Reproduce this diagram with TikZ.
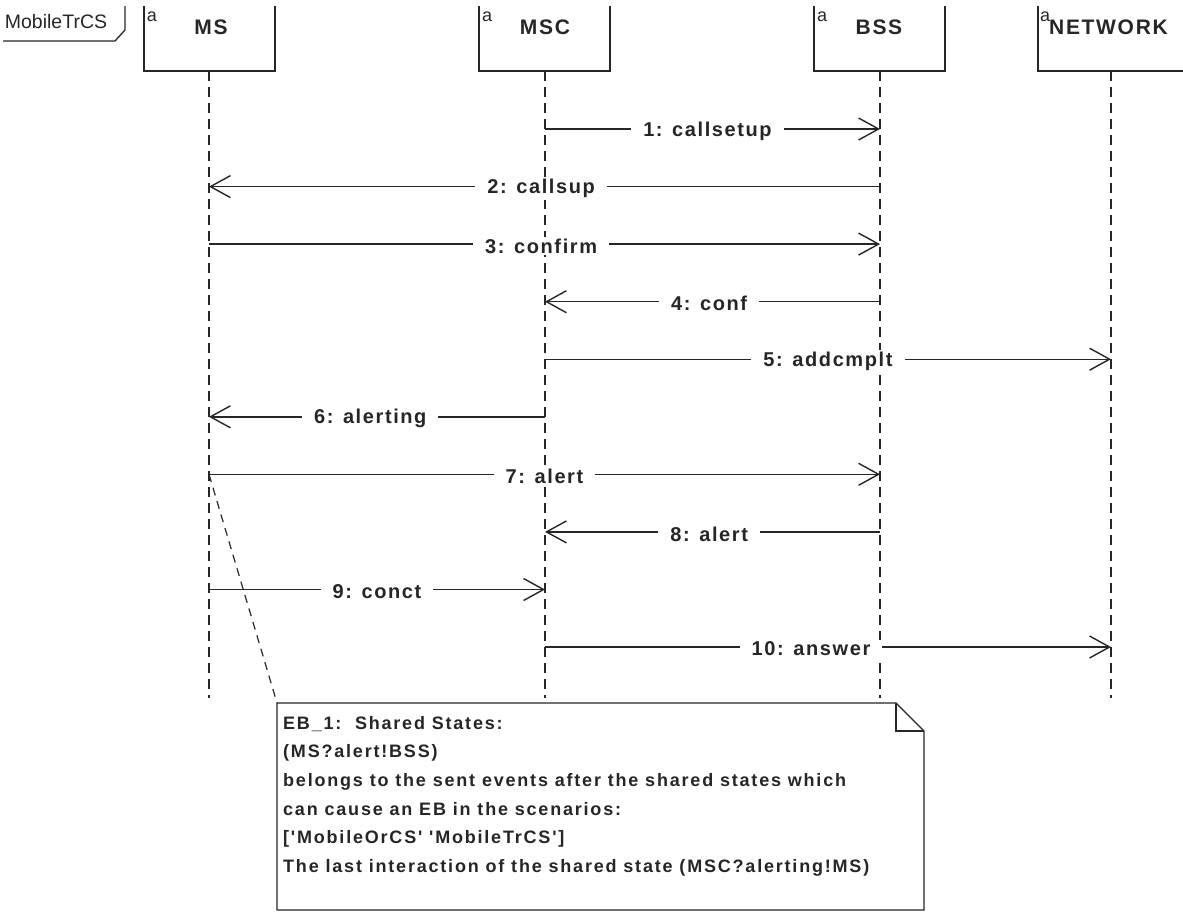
\documentclass[tikz,border=0pt]{standalone}
\usepackage{fontspec}
\setmainfont{Liberation Sans}
\newfontfamily\labfont[LetterSpace=8]{Liberation Sans}
\newfontfamily\headfont[LetterSpace=8]{Liberation Sans}
\newfontfamily\notefont[LetterSpace=10,Ligatures=TeXOff]{Liberation Sans}
\newfontfamily\framefont{Liberation Sans}
\usetikzlibrary{arrows.meta}
\begin{document}
\begin{tikzpicture}[x=1pt,y=-1pt,
  boxline/.style={line width=1.3pt, black!85},
  lifeline/.style={line width=1.2pt, black!85, dash pattern=on 10pt off 6pt},
  msg/.style={line width=1.4pt, black!85, -{Straight Barb[length=20pt,width=22pt,line width=1.4pt]}},
  lbl/.style={fill=white, inner xsep=12pt, inner ysep=2pt, yshift=-2pt, text=black!85, font=\labfont\bfseries\fontsize{20}{22}\selectfont},
  headlbl/.style={inner sep=0pt, text=black!85, font=\headfont\bfseries\fontsize{21}{23}\selectfont},
  alabel/.style={inner sep=0pt, text=black!85, font=\fontsize{18}{20}\selectfont},
  notetext/.style={inner sep=0pt, align=left, anchor=north west, text=black!85, font=\notefont\bfseries\fontsize{18}{28.6}\selectfont},
  notelink/.style={line width=1.2pt, black!85, dash pattern=on 8pt off 6pt},
  framelbl/.style={inner sep=0pt, text=black!85, font=\framefont\fontsize{19.5}{21}\selectfont}
]
\useasboundingbox (0,0) rectangle (1183,911);

% frame label
\node[framelbl] (frame) at (56,22) {MobileTrCS};
\coordinate (fa) at (3,41);
\coordinate (fb) at (115,41);
\coordinate (fc) at (125,30);
\coordinate (fd) at (125,6);
\draw[boxline] (fa) -- (fb) -- (fc) -- (fd);

% header boxes (open at top)
\draw[boxline] (144,6) |- (275,71) -- (275,6);
\draw[boxline] (479,6) |- (610,71) -- (610,6);
\draw[boxline] (814,6) |- (945,71) -- (945,6);
\draw[boxline] (1038,6) |- (1190,71);

\node[alabel] (ams) at (152,17) {a};
\node[headlbl] (hms) at (211,27) {MS};
\node[alabel] (amsc) at (487,17) {a};
\node[headlbl] (hmsc) at (545,27) {MSC};
\node[alabel] (abss) at (822,17) {a};
\node[headlbl] (hbss) at (879,27) {BSS};
\node[alabel] (anet) at (1045,17) {a};
\node[headlbl, anchor=west] (hnet) at (1049,27) {NETWORK};

% lifelines
\coordinate (msT) at (209,71);   \coordinate (msB) at (209,698);
\coordinate (mscT) at (545,71);  \coordinate (mscB) at (545,698);
\coordinate (bssT) at (880,71);  \coordinate (bssB) at (880,698);
\coordinate (netT) at (1111,71); \coordinate (netB) at (1111,698);
\draw[lifeline] (msT) -- (msB);
\draw[lifeline] (mscT) -- (mscB);
\draw[lifeline] (bssT) -- (bssB);
\draw[lifeline] (netT) -- (netB);

% message rows
\coordinate (y1) at (0,129);
\coordinate (y2) at (0,186.6);
\coordinate (y3) at (0,244.1);
\coordinate (y4) at (0,301.7);
\coordinate (y5) at (0,359.2);
\coordinate (y6) at (0,416.8);
\coordinate (y7) at (0,474.3);
\coordinate (y8) at (0,531.9);
\coordinate (y9) at (0,589.5);
\coordinate (y10) at (0,647);

\draw[msg] (mscT |- y1) -- node[lbl, pos=0.485] {1: callsetup} (bssT |- y1);
\draw[msg] (bssT |- y2) -- node[lbl, pos=0.505] {2: callsup} (msT |- y2);
\draw[msg] (msT |- y3) -- node[lbl, pos=0.495] {3: confirm} (bssT |- y3);
\draw[msg] (bssT |- y4) -- node[lbl, pos=0.51] {4: conf} (mscT |- y4);
\draw[msg] (mscT |- y5) -- node[lbl, pos=0.5] {5: addcmplt} (netT |- y5);
\draw[msg] (mscT |- y6) -- node[lbl, pos=0.52] {6: alerting} (msT |- y6);
\draw[msg] (msT |- y7) -- node[lbl, pos=0.5] {7: alert} (bssT |- y7);
\draw[msg] (bssT |- y8) -- node[lbl, pos=0.51] {8: alert} (mscT |- y8);
\draw[msg] (msT |- y9) -- node[lbl, pos=0.5] {9: conct} (mscT |- y9);
\draw[msg] (mscT |- y10) -- node[lbl, pos=0.47] {10: answer} (netT |- y10);

% note
\coordinate (nTL) at (277,703);
\coordinate (nF1) at (896,703);
\coordinate (nF2) at (924,731);
\coordinate (nBR) at (924,910);
\coordinate (nBL) at (277,910);
\coordinate (nFC) at (896,731);
\draw[boxline, fill=white] (nTL) -- (nF1) -- (nF2) -- (nBR) -- (nBL) -- cycle;
\draw[boxline] (nF1) -- (nFC) -- (nF2);
\node[notetext] (note) at (283,716) {EB\_1:\ \ Shared States:\\
(MS?alert!BSS)\\
belongs to the sent events after the shared states which\\
can cause an EB in the scenarios:\\
{[}'MobileOrCS' 'MobileTrCS']\\
The last interaction of the shared state (MSC?alerting!MS)};

\draw[notelink] (msT |- y7) -- (nTL);
\end{tikzpicture}
\end{document}
